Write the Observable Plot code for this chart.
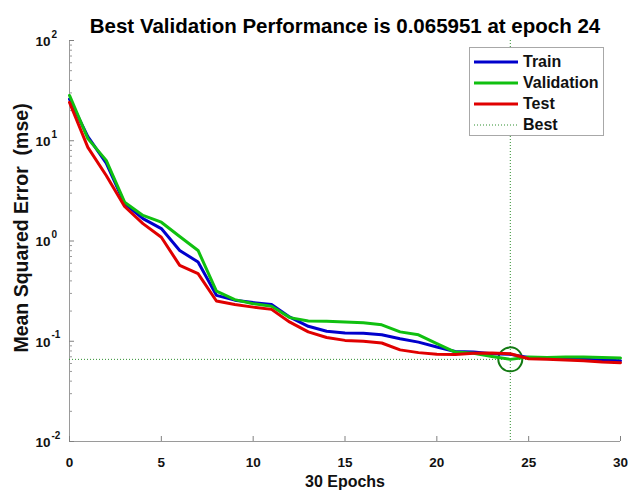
<!DOCTYPE html>
<html>
<head>
<meta charset="utf-8">
<script src="https://cdn.jsdelivr.net/npm/d3@7"></script>
<script src="https://cdn.jsdelivr.net/npm/@observablehq/plot@0.6"></script>
<style>
  body { margin: 0; background: #fff; font-family: "Liberation Sans", Arial, sans-serif; }
  #chart { position: relative; width: 628px; height: 494px; }
  .legend { position: absolute; left: 469px; top: 47px; width: 135px; height: 89px;
            border: 1px solid #a8a8a8; background: #fff; box-sizing: border-box; }
  .legend .row { position: absolute; left: 4px; height: 20px; display: flex; align-items: center;
                 font-weight: bold; font-size: 16px; color: #111; white-space: nowrap; }
  .legend svg { margin-right: 5px; display: block; }
</style>
</head>
<body>
<div id="chart"></div>
<script>
// Training record of the network: mean squared error per epoch
const epochs = d3.range(0, 31);
const train = [26.0, 11.0, 5.98, 2.36, 1.67, 1.33, 0.805, 0.616, 0.287, 0.257,
               0.243, 0.232, 0.174, 0.141, 0.126, 0.121, 0.120, 0.116, 0.106, 0.098,
               0.0875, 0.079, 0.078, 0.075, 0.074, 0.0687, 0.068, 0.067, 0.066, 0.065, 0.064];
const validation = [28.3, 10.5, 6.37, 2.44, 1.80, 1.54, 1.11, 0.805, 0.317, 0.260,
                    0.237, 0.223, 0.172, 0.159, 0.158, 0.156, 0.153, 0.146, 0.124, 0.116,
                    0.0946, 0.078, 0.076, 0.0706, 0.065951, 0.0697, 0.069, 0.0695, 0.0695, 0.069, 0.068];
const test = [24.1, 8.6, 4.5, 2.21, 1.49, 1.09, 0.571, 0.472, 0.252, 0.233,
              0.219, 0.208, 0.155, 0.124, 0.109, 0.102, 0.100, 0.096, 0.082, 0.077,
              0.074, 0.0737, 0.076, 0.0762, 0.075, 0.067, 0.066, 0.065, 0.064, 0.062, 0.061];

const bestEpoch = 24;
const bestPerf = 0.065951;

const xTicks = [0, 5, 10, 15, 20, 25, 30];
const yTicks = [0.01, 0.1, 1, 10, 100];
const yExponents = ["-2", "-1", "0", "1", "2"];
const yMinor = [-2, -1, 0, 1].flatMap(k => d3.range(2, 10).map(m => m * Math.pow(10, k)));

const seriesNames = ["Train", "Validation", "Test"];
const seriesColors = ["#0000cc", "#10c010", "#e00000"];
const bestColor = "#2f8f2f";

const rows = seriesNames.flatMap((name, s) =>
  epochs.map((e, i) => ({series: name, epoch: e, mse: [train, validation, test][s][i]})));

const font = {fontFamily: "'Liberation Sans', Arial, sans-serif", fontWeight: "bold"};

const chart = Plot.plot({
  width: 628,
  height: 494,
  marginLeft: 69,
  marginRight: 8,
  marginTop: 40,
  marginBottom: 53,
  x: {domain: [0, 30]},
  y: {type: "log", domain: [0.01, 100]},
  color: {domain: seriesNames, range: seriesColors},
  marks: [
    // axis lines
    Plot.ruleX([0], {stroke: "#9a9a9a", strokeWidth: 1}),
    Plot.ruleY([0.01], {stroke: "#9a9a9a", strokeWidth: 1}),
    // inward ticks
    Plot.axisX({ticks: xTicks, tickSize: -5, fill: "none", label: null, stroke: "#808080"}),
    Plot.axisY({ticks: yTicks, tickSize: -5, fill: "none", label: null, stroke: "#808080"}),
    Plot.axisY({ticks: yMinor, tickSize: -3, fill: "none", label: null, stroke: "#9a9a9a"}),
    // tick labels
    Plot.axisX({ticks: xTicks, tickSize: 0, tickPadding: 16, label: null, fontSize: 13.5, fill: "#111", ...font}),
    Plot.text(yTicks, {y: d => d, text: () => "10", frameAnchor: "left", textAnchor: "end",
                       dx: -19, dy: 1, fontSize: 13.5, fill: "#111", ...font}),
    Plot.text(yTicks, {y: d => d, text: (d, i) => yExponents[i], frameAnchor: "left", textAnchor: "start",
                       dx: -18, dy: -6, fontSize: 10, fill: "#111", ...font}),
    // best epoch guides
    Plot.ruleX([bestEpoch], {stroke: bestColor, strokeWidth: 1, strokeDasharray: "1,2"}),
    Plot.ruleY([bestPerf], {stroke: bestColor, strokeWidth: 1, strokeDasharray: "1,2"}),
    Plot.dot([{epoch: bestEpoch, mse: bestPerf}], {x: "epoch", y: "mse", r: 12, stroke: "#137a13",
             strokeWidth: 2, fill: "none"}),
    // performance curves
    Plot.line(rows, {x: "epoch", y: "mse", z: "series", stroke: "series", strokeWidth: 3,
                     strokeLinejoin: "round"}),
    // titles
    Plot.text(["Best Validation Performance is 0.065951 at epoch 24"],
              {frameAnchor: "top", dy: -22, fontSize: 20.5, fill: "#000", ...font}),
    Plot.text(["30 Epochs"], {frameAnchor: "bottom", dy: 45, fontSize: 16, fill: "#111", ...font}),
    Plot.text(["Mean Squared Error  (mse)"], {frameAnchor: "left", textAnchor: "middle", dx: -48, dy: -13,
              rotate: -90, fontSize: 19.5, fill: "#111", ...font})
  ]
});

const holder = document.getElementById("chart");
holder.appendChild(chart);

// legend box
const legend = document.createElement("div");
legend.className = "legend";
const entries = [
  {label: "Train", color: seriesColors[0], dash: null, width: 3},
  {label: "Validation", color: seriesColors[1], dash: null, width: 3},
  {label: "Test", color: seriesColors[2], dash: null, width: 3},
  {label: "Best", color: bestColor, dash: "1,2", width: 1}
];
entries.forEach((d, i) => {
  const row = document.createElement("div");
  row.className = "row";
  row.style.top = (3.5 + i * 21.2) + "px";
  const sw = d3.create("svg").attr("width", 44).attr("height", 6);
  sw.append("line").attr("x1", 0).attr("x2", 44).attr("y1", 3).attr("y2", 3)
    .attr("stroke", d.color).attr("stroke-width", d.width)
    .attr("stroke-dasharray", d.dash);
  row.appendChild(sw.node());
  const t = document.createElement("span");
  t.textContent = d.label;
  row.appendChild(t);
  legend.appendChild(row);
});
holder.appendChild(legend);
</script>
</body>
</html>
